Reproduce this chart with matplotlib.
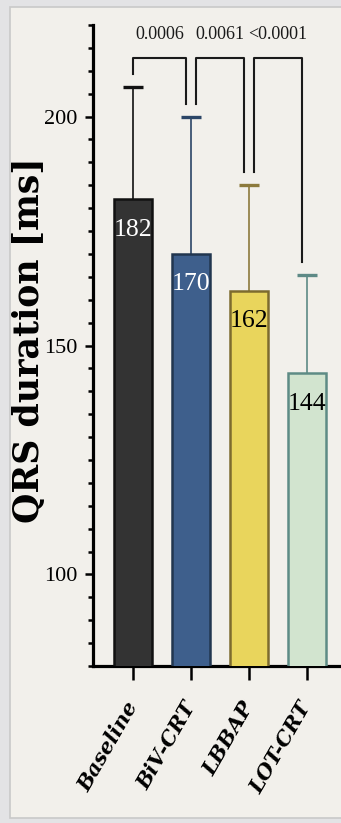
import matplotlib
matplotlib.use("Agg")
import matplotlib.pyplot as plt
from matplotlib.patches import Rectangle
from matplotlib.ticker import MultipleLocator

# Data
groups = ["Baseline", "BiV-CRT", "LBBAP", "LOT-CRT"]
means = [182, 170, 162, 144]
sds = [24.5, 30, 23, 21.5]
fill_colors = ["#333333", "#3e5f8c", "#e9d55c", "#d2e4cf"]
edge_colors = ["#111111", "#22364f", "#7d6b2e", "#5e8b85"]
err_colors = ["#111111", "#2b4566", "#8c7a3c", "#5e8a86"]
label_colors = ["white", "white", "black", "black"]
comparisons = [(0, 1, "0.0006"), (1, 2, "0.0061"), (2, 3, "<0.0001")]

W, H, DPI = 341, 823, 100
fig = plt.figure(figsize=(W / DPI, H / DPI), dpi=DPI, facecolor="#e3e3e5")

# inner panel
fig.patches.append(Rectangle((10 / W, 5 / H), 1 - 10 / W + 0.01, (818 - 7) / H,
                             transform=fig.transFigure, facecolor="#f2f0eb",
                             edgecolor="#c9c9c9", linewidth=1.2, zorder=0))

ax = fig.add_axes([93 / W, 1 - 666 / H, 1 - 93 / W, (666 - 25) / H])
ax.set_facecolor("none")
ax.set_zorder(2)

x = list(range(len(groups)))
ax.bar(x, means, width=0.655, color=fill_colors, edgecolor=edge_colors,
       linewidth=1.8, zorder=3)
# upper-only error bars (hide the cap that would sit on the bar top)
for xi, m, s, c in zip(x, means, sds, err_colors):
    _, caps, _ = ax.errorbar([xi], [m], yerr=[[0], [s]], fmt="none", ecolor=c,
                             elinewidth=1.2, capsize=7.5, capthick=2.4, zorder=2)
    caps[0].set_visible(False)

# value labels inside bars
for xi, m, lc in zip(x, means, label_colors):
    ax.annotate(str(m), (xi, m), xytext=(0, -22), textcoords="offset points",
                ha="center", va="center", color=lc, fontsize=18.5,
                family="Liberation Serif", zorder=4)

# significance brackets
gap_x = 0.085
gap_y = 2.8
top = 212.9
for i, j, p in comparisons:
    x1, x2 = i + gap_x * (i > 0), j - gap_x
    y1 = means[i] + sds[i] + gap_y
    y2 = means[j] + sds[j] + gap_y
    ax.plot([x1, x1, x2, x2], [y1, top, top, y2], color="#1a1a1a",
            linewidth=1.5, clip_on=False, zorder=5)
    ax.text((x1 + x2) / 2, 217.9, p, ha="center", va="center",
            fontsize=13, family="Liberation Serif", color="#1a1a1a")

ax.set_xlim(-0.69, 3.586)
ax.set_ylim(80, 220)
ax.yaxis.set_major_locator(MultipleLocator(50))
ax.yaxis.set_minor_locator(MultipleLocator(5))
ax.set_yticks([100, 150, 200])
ax.set_yticklabels(["100", "150", "200"], family="Liberation Serif", fontsize=16)
ax.tick_params(axis="y", which="major", length=6, width=1.8, pad=5)
ax.tick_params(axis="y", which="minor", length=3.5, width=1.8)

ax.set_xticks(x)
ax.set_xticklabels(groups, rotation=60, ha="right", va="center",
                   rotation_mode="anchor", family="DejaVu Serif",
                   fontweight="bold", fontstyle="italic", fontsize=15)
ax.tick_params(axis="x", length=10, width=1.8, pad=17)

for side in ["top", "right"]:
    ax.spines[side].set_visible(False)
for side in ["left", "bottom"]:
    ax.spines[side].set_linewidth(2.3)

fig.text(29 / W, 1 - 340 / H, "QRS duration [ms]", rotation=90, ha="center",
         va="center", family="DejaVu Serif", fontweight="bold", fontsize=25)

fig.savefig("out.png", dpi=DPI, facecolor=fig.get_facecolor())
